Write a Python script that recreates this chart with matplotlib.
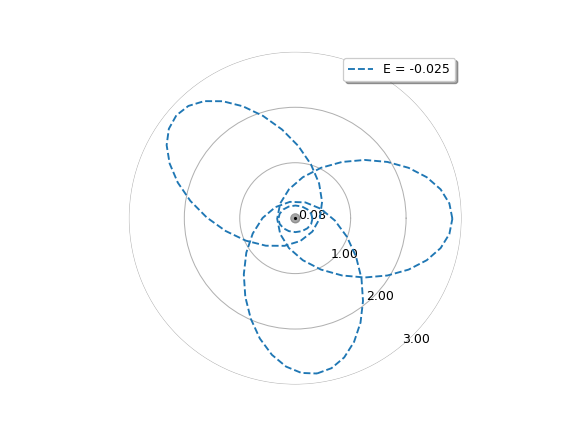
import numpy as np
import matplotlib
matplotlib.use("Agg")
import matplotlib.pyplot as plt

# ----------------------------------------------------
# Orbit positions (x, y in length units)
# ----------------------------------------------------

energy = -0.025

right_x = [2.835, 2.781, 2.623, 2.372, 2.045, 1.664, 1.255, 0.846, 0.465, 0.138, -0.113, -0.271, -0.325,
           -0.271, -0.113, 0.138, 0.465, 0.846, 1.255, 1.664, 2.045, 2.372, 2.623, 2.781, 2.835]
right_y = [-0.010, 0.265, 0.520, 0.739, 0.908, 1.014, 1.050, 1.014, 0.908, 0.739, 0.520, 0.265, -0.010,
           -0.285, -0.540, -0.759, -0.928, -1.034, -1.070, -1.034, -0.928, -0.759, -0.540, -0.285, -0.010]

bottom_x = [0.393, 0.655, 0.884, 1.062, 1.178, 1.223, 1.196, 1.097, 0.934, 0.716, 0.460, 0.183, -0.097,
            -0.359, -0.588, -0.766, -0.882, -0.927, -0.900, -0.801, -0.638, -0.420, -0.164, 0.113, 0.393]
bottom_y = [-2.802, -2.706, -2.512, -2.231, -1.885, -1.495, -1.089, -0.693, -0.337, -0.043, 0.170, 0.284, 0.294,
            0.198, 0.004, -0.277, -0.623, -1.013, -1.420, -1.815, -2.171, -2.465, -2.678, -2.792, -2.802]

upper_x = [-2.144, -2.279, -2.319, -2.265, -2.118, -1.890, -1.595, -1.254, -0.890, -0.529, -0.193, 0.093, 0.310,
           0.445, 0.485, 0.431, 0.284, 0.056, -0.239, -0.580, -0.944, -1.306, -1.641, -1.927, -2.144]
upper_y = [1.854, 1.612, 1.317, 0.986, 0.642, 0.310, 0.012, -0.232, -0.406, -0.497, -0.499, -0.412, -0.242,
           0.000, 0.295, 0.627, 0.970, 1.302, 1.600, 1.844, 2.018, 2.109, 2.111, 2.024, 1.854]

inner_x = [0.311, 0.288, 0.221, 0.122, 0.004, -0.114, -0.213, -0.280, -0.303,
           -0.280, -0.213, -0.114, 0.004, 0.122, 0.221, 0.288, 0.311]
inner_y = [-0.012, 0.080, 0.158, 0.210, 0.228, 0.210, 0.158, 0.080, -0.012,
           -0.104, -0.182, -0.234, -0.252, -0.234, -0.182, -0.104, -0.012]

r_ticks = [0.08, 1.0, 2.0, 3.0]

loops = [
    (right_x, right_y),
    (bottom_x, bottom_y),
    (upper_x, upper_y),
    (inner_x, inner_y),
]

# ----------------------------------------------------
# Plot
# ----------------------------------------------------

fig = plt.figure(figsize=(6.4, 4.8), dpi=90)
ax = fig.add_subplot(111, projection="polar")

for i, (xs, ys) in enumerate(loops):
    xs = np.asarray(xs)
    ys = np.asarray(ys)
    theta = np.unwrap(np.arctan2(ys, xs))
    r = np.hypot(xs, ys)
    ax.plot(theta, r, "--", color="tab:blue", linewidth=1.5,
            label=f"E = {energy}" if i == 0 else None)

# central body
ax.plot(0, 0, "o", color="gray", alpha=0.7, markersize=8, markeredgewidth=0)
ax.plot(0, 0, "o", color="black", markersize=1.5)

ax.set_rlim(0, 3)
ax.set_rticks(r_ticks)
ax.set_yticklabels([f"{t:.2f}" for t in r_ticks])
ax.set_rlabel_position(-50)
ax.set_xticks([])
ax.spines["polar"].set_visible(False)

ax.legend(loc="upper right", shadow=True)

plt.savefig("out.png", dpi=90)
plt.close()
